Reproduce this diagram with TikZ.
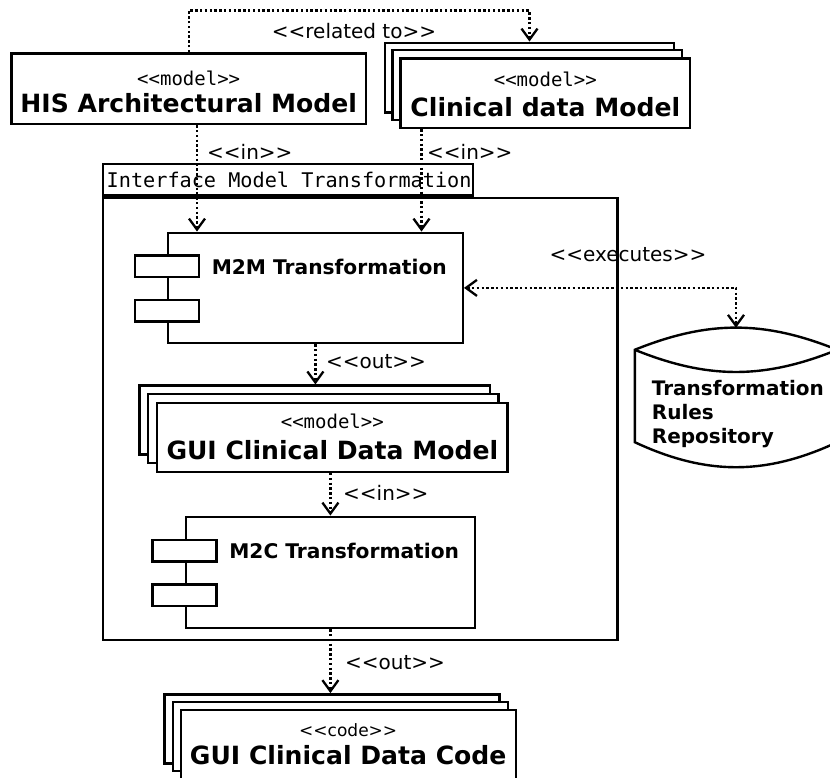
\documentclass[tikz,border=0pt]{standalone}
\usepackage{fontspec}
\setmainfont{DejaVu Sans}
% plain families, so that "<<" and ">>" stay as typed
\newfontfamily\dvsans{DejaVu Sans}
\newfontfamily\monofont{DejaVu Sans Mono}
\usetikzlibrary{arrows.meta,calc}

\tikzset{
  umlbox/.style={draw, line width=2.4pt, fill=white, inner sep=0pt},
  stub/.style={draw, line width=2.4pt, fill=white, inner sep=0pt,
    minimum width=64pt, minimum height=21.5pt},
  stereo/.style={inner sep=0pt, font=\monofont\fontsize{19}{21}\selectfont},
  stereosans/.style={inner sep=0pt, font=\dvsans\fontsize{17}{20}\selectfont},
  modelname/.style={inner sep=0pt, font=\dvsans\bfseries\fontsize{25.1}{28}\selectfont},
  comptext/.style={inner sep=0pt, anchor=west, font=\dvsans\bfseries\fontsize{20.2}{22}\selectfont},
  deplabel/.style={inner sep=0pt, font=\dvsans\fontsize{20}{22}\selectfont},
  barb/.tip={Straight Barb[length=11pt,width=16pt,line width=2.3pt]},
  dep/.style={line width=2.4pt, dash pattern=on 2.4pt off 2.4pt, -barb},
  depboth/.style={line width=2.4pt, dash pattern=on 2.4pt off 2.4pt, barb-barb},
}

\begin{document}
\begin{tikzpicture}[x=1pt,y=-1pt]
\fill[white] (0,0) rectangle (830,778);
\useasboundingbox (0,0) rectangle (830,778);

% ---- input models ----
\node[umlbox, minimum width=354.6pt, minimum height=70.7pt] (his) at (188.7,88.7) {};
\node[stereo] (hisst) at (188.7,78) {<<model>>};
\node[modelname] (hisname) at (188.7,103.3) {HIS Architectural Model};

\node[umlbox, minimum width=289.3pt, minimum height=69.7pt] (clinback) at (529.5,77.6) {};
\node[umlbox, minimum width=289.3pt, minimum height=69.7pt] (clinmid) at (537.2,85.0) {};
\node[umlbox, minimum width=289.3pt, minimum height=69.7pt] (clinfront) at (545.3,93.2) {};
\node[stereo] (clinst) at (545.3,79.5) {<<model>>};
\node[modelname] (clinname) at (545.3,106.7) {Clinical data Model};

% ---- transformation frame ----
\node[draw, line width=2.4pt, inner sep=0pt, minimum width=514.9pt, minimum height=442pt] (frame) at (360.15,419) {};
\node[draw, line width=2.4pt, anchor=south west, inner xsep=4pt, inner ysep=0pt,
  minimum height=31.3pt,
  font=\monofont\fontsize{20.2}{22}\selectfont] (tab) at (frame.north west)
  {\makebox[362.3pt][l]{Interface Model Transformation}};

% M2M component
\node[umlbox, minimum width=294.8pt, minimum height=110.3pt] (m2m) at (315.4,287.9) {};
\node[stub] (m2ma) at ($(m2m.west)+(0,-21.5)$) {};
\node[stub] (m2mb) at ($(m2m.west)+(0,23)$) {};
\node[comptext] (m2mtext) at ($(m2m.north west)+(44.8,35.2)$) {M2M Transformation};

% GUI clinical data model
\node[umlbox, minimum width=350.6pt, minimum height=68.7pt] (guiback) at (314.8,420.0) {};
\node[umlbox, minimum width=350.6pt, minimum height=68.7pt] (guimid) at (323.2,428.4) {};
\node[umlbox, minimum width=350.6pt, minimum height=68.7pt] (guifront) at (332.3,437.4) {};
\node[stereo] (guist) at (332.3,421.7) {<<model>>};
\node[modelname] (guiname) at (332.3,450) {GUI Clinical Data Model};

% M2C component
\node[umlbox, minimum width=289.3pt, minimum height=111.3pt] (m2c) at (330.4,572.4) {};
\node[stub] (m2ca) at ($(m2c.west)+(0,-21.5)$) {};
\node[stub] (m2cb) at ($(m2c.west)+(0,22.8)$) {};
\node[comptext] (m2ctext) at ($(m2c.north west)+(44.6,35)$) {M2C Transformation};

% ---- generated code ----
\node[umlbox, minimum width=335pt, minimum height=69pt] (codeback) at (332.0,728.8) {};
\node[umlbox, minimum width=335pt, minimum height=69pt] (codemid) at (340.2,736.2) {};
\node[umlbox, minimum width=335pt, minimum height=69pt] (codefront) at (348.2,744.5) {};
\node[stereosans] (codest) at (348.2,730) {<<code>>};
\node[modelname] (codename) at (348.2,755) {GUI Clinical Data Code};

% ---- rules repository (cylinder) ----
\node[inner sep=0pt, minimum width=202pt, minimum height=139pt] (repo) at (736,397.5) {};
\coordinate (rtl) at ($(repo.north west)+(0,22)$);
\coordinate (rtr) at ($(repo.north east)+(0,22)$);
\coordinate (rbl) at ($(repo.south west)+(0,-25)$);
\coordinate (rbr) at ($(repo.south east)+(0,-25)$);
\draw[line width=2.4pt, fill=white, line join=miter]
  (rtl) to[bend left=22] (rtr) -- (rbr) to[bend left=25] (rbl) -- cycle;
\draw[line width=2.4pt] (rtr) to[bend left=22] (rtl);
\node[anchor=west, inner sep=0pt, align=left, font=\dvsans\bfseries\fontsize{20}{24}\selectfont]
  (repotext) at (651.7,414) {Transformation\\Rules\\Repository};

% ---- dependencies ----
\coordinate (relY) at (0,10.7);
\coordinate (inA) at (197,0);
\coordinate (inB) at (421.5,0);

\draw[dep] (his.north) |- (relY -| clinback.north) -- (clinback.north);
\node[deplabel] (rellabel) at (354,31) {<<related to>>};

\draw[dep] (his.south -| inA) -- (m2m.north -| inA);
\node[deplabel, anchor=west] (inlabela) at (207,152) {<<in>>};
\draw[dep] (clinfront.south -| inB) -- (m2m.north -| inB);
\node[deplabel, anchor=west] (inlabelb) at (427,152) {<<in>>};

\draw[depboth] (m2m.east) -| (repo.north);
\node[deplabel] (execlabel) at (628,255) {<<executes>>};

\draw[dep] (m2m.south) -- (m2m.south |- guiback.north);
\node[deplabel, anchor=west] (outlabela) at (326,361.7) {<<out>>};

\draw[dep] (m2c.north |- guifront.south) -- (m2c.north);
\node[deplabel, anchor=west] (inlabelc) at (343,493) {<<in>>};

\draw[dep] (m2c.south) -- (m2c.south |- codeback.north);
\node[deplabel, anchor=west] (outlabelb) at (345,662.7) {<<out>>};
\end{tikzpicture}
\end{document}
